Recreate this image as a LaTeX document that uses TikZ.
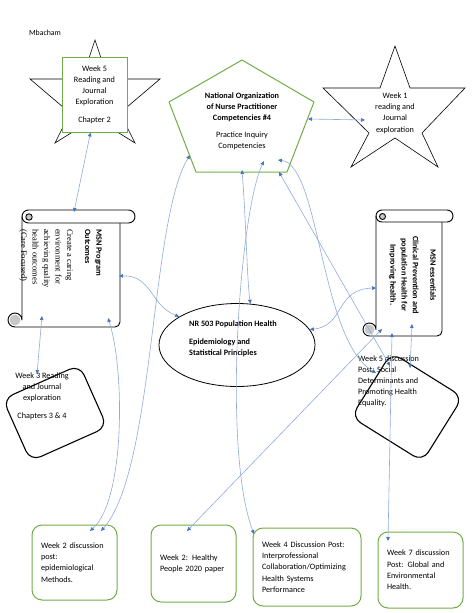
\documentclass[tikz,border=0pt]{standalone}
\usepackage{fontspec}
\setmainfont{Carlito}
\newfontfamily\camfont{Liberation Serif}
\usetikzlibrary{arrows.meta, shapes.geometric}

\definecolor{boxgreen}{RGB}{112,173,71}
\definecolor{linkblue}{RGB}{143,170,220}
\definecolor{tipblue}{RGB}{68,114,196}
\definecolor{curlgray}{RGB}{200,200,200}

\begin{document}
\begin{tikzpicture}[x=1pt, y=-1pt,
  every node/.style={font=\fontsize{8.2}{11.3}\selectfont, inner sep=0pt},
  link/.style={draw=linkblue, line width=0.6pt, >={Triangle[length=4pt, width=3.6pt, color=tipblue]}, <->},
  starline/.style={draw=black, line width=0.6pt, line join=miter},
  scroll/.style={draw=black, line width=0.9pt, line join=round},
  rbox/.style={draw=black, line width=1.1pt, rounded corners=11pt},
  greenbox/.style={draw=boxgreen, line width=1pt, rounded corners=10pt, align=left, inner xsep=9pt}]
\useasboundingbox (0,0) rectangle (474,613);

\node[font=\fontsize{7.8}{9}\selectfont] (author) at (45,33) {Mbacham};

% week 5 star
\draw[starline] (95,40) -- (108,79) -- (160,79) -- (120,113) -- (135,143) -- (95,118) -- (55,143) -- (70,113) -- (30,79) -- (82,79) -- cycle;
\node[draw=boxgreen, line width=0.9pt, fill=white, minimum width=65pt, minimum height=75pt, align=center] (wk5read) at (94.5,94.5) {Week 5\\Reading and\\Journal\\Exploration\\[6pt]Chapter 2};

% competencies pentagon
\draw[draw=boxgreen, line width=1pt, line join=round] (242,60) -- (314,102) -- (287,172) -- (196,172) -- (169,102) -- cycle;
\node[align=center] (nonpf) at (242,121) {\textbf{National Organization}\\\textbf{of Nurse Practitioner}\\\textbf{Competencies \#4}\\[5pt]Practice Inquiry\\Competencies};

% week 1 star
\draw[starline] (395,46) -- (410,88) -- (465,88) -- (422,133) -- (438,167) -- (395,138) -- (351,167) -- (369,133) -- (323,88) -- (380,88) -- cycle;
\node[align=center] (wk1read) at (395,113) {Week 1\\reading and\\Journal\\exploration};

% program outcomes scroll
\fill[curlgray] (15,320) circle (5.5);
\draw[scroll] (28.5,210) -- (128.5,210) arc[start angle=-90, end angle=90, radius=6.5] -- (28.5,223) arc[start angle=90, end angle=270, radius=6.5];
\filldraw[scroll, fill=curlgray] (29,217) circle (3.2);
\draw[scroll] (120,223) -- (120,322) arc[start angle=0, end angle=90, radius=5] -- (15,327) arc[start angle=90, end angle=360, radius=7] -- (22,216.5);
\node[rotate=-90, anchor=north west, align=left] (msntitle) at (102,229) {\textbf{MSN Program}\\\textbf{Outcomes}};
\node[rotate=-90, anchor=north west, align=left, font=\camfont\fontsize{8.5}{11.5}\selectfont] (msnbody) at (73,229) {Create a caring\\environment for\\achieving quality\\health outcomes\\(Care Focused)};

% essentials scroll
\fill[curlgray] (369.5,329.5) circle (5);
\draw[scroll] (382,210) -- (447,210) arc[start angle=-90, end angle=90, radius=6] -- (382,222) arc[start angle=90, end angle=270, radius=6];
\filldraw[scroll, fill=curlgray] (382.5,216.5) circle (3);
\draw[scroll] (442,222) -- (442,331) arc[start angle=0, end angle=90, radius=5] -- (369.5,336) arc[start angle=90, end angle=360, radius=6.5] -- (376,216);
\node[rotate=-90, align=center] (essent) at (412.5,275) {\textbf{MSN essentials}\\[6pt]\textbf{Clinical Prevention and}\\\textbf{population Health for}\\\textbf{Improving health.}};

% course ellipse
\node[draw, ellipse, line width=0.8pt, minimum width=156pt, minimum height=83pt] (nr503) at (237,345) {};
\node[align=left] (nr503txt) at (233,339) {\textbf{NR 503 Population Health}\\[6pt]\textbf{Epidemiology and}\\\textbf{Statistical Principles}};

% tilted boxes
\node[rbox, rotate=24, minimum width=84pt, minimum height=68pt] (wk3read) at (55,413) {};
\node[align=center] (wk3txt) at (42,396) {Week 3 Reading\\and Journal\\exploration\\[6pt]Chapters 3 \& 4};
\node[rbox, rotate=-32, minimum width=84pt, minimum height=76pt] (wk5disc) at (407,407) {};
\node[align=left, anchor=north west, font=\fontsize{8.2}{11}\selectfont] (wk5txt) at (358,356) {Week 5 discussion\\Post: Social\\Determinants and\\Promoting Health\\Equality.};

% assignment boxes
\node[greenbox, text width=67pt, minimum height=75pt] (wk2disc) at (74.5,562.5) {Week 2 discussion\\post:\\epidemiological\\Methods.};
\node[greenbox, text width=67pt, minimum height=77pt] (wk2paper) at (193.5,563.5) {Week 2: Healthy\\People 2020 paper};
\node[greenbox, text width=90pt, minimum height=78pt] (wk4disc) at (307,567) {Week 4 Discussion Post:\\Interprofessional\\Collaboration/Optimizing\\Health Systems\\Performance};
\node[greenbox, text width=67pt, minimum height=76pt] (wk7disc) at (420.5,570) {Week 7 discussion\\Post: Global and\\Environmental\\Health.};

% connector ends
\coordinate (lsTop) at (74,212);
\coordinate (lsRight) at (119,276);
\coordinate (lsBotL) at (42,316);
\coordinate (lsBotR) at (108,318);
\coordinate (rsLeft) at (376,288);
\coordinate (rsBotA) at (382,329);
\coordinate (rsBotB) at (392,333);
\coordinate (rsBotC) at (412,324);
\coordinate (pnLeft) at (190,155);
\coordinate (pnBot) at (242,170);
\coordinate (pnMid) at (264,161);
\coordinate (pnRA) at (278,160);
\coordinate (pnRB) at (279,172);
\coordinate (pnRight) at (308,119);
\coordinate (starPt) at (365,120);
\coordinate (w3Pt) at (37,374);
\coordinate (w5A) at (376,373);
\coordinate (w5B) at (390,366);
\coordinate (w5C) at (410,368);
\coordinate (b1A) at (90,531);
\coordinate (b1B) at (101,531);
\coordinate (b2Pt) at (187,531);
\coordinate (b3Pt) at (254,534);
\coordinate (b4Pt) at (388,541);

% connectors
\draw[link] ([xshift=-4pt]wk5read.south) -- (lsTop);
\draw[link] (pnRight) -- (starPt);
\draw[link] (lsRight) .. controls (152,275) and (150,305) .. (nr503.154);
\draw[link] (lsBotL) -- (w3Pt);
\draw[link] (lsBotR) .. controls (125,370) and (125,500) .. (b1A);
\draw[link] (pnLeft) .. controls (150,220) and (155,470) .. (b1B);
\draw[link] (pnBot) .. controls (246,220) and (247,280) .. (nr503.72);
\draw[link] (pnMid) .. controls (240,210) and (222,450) .. (b3Pt);
\draw[link] (pnRA) .. controls (320,165) and (320,340) .. (w5A);
\draw[link] (pnRB) -- (w5B);
\draw[link] (nr503.12) .. controls (345,326) and (335,289) .. (rsLeft);
\draw[link] (b2Pt) -- (rsBotA);
\draw[link] (rsBotC) -- (w5C);
\draw[link] (rsBotB) -- (b4Pt);
\end{tikzpicture}
\end{document}
